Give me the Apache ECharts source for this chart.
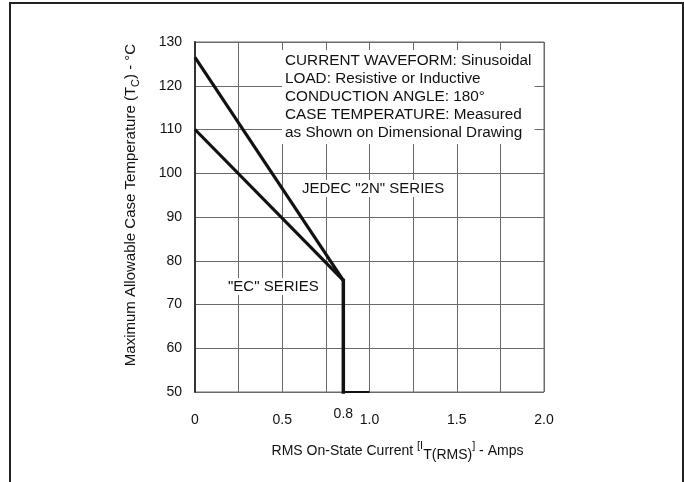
<!DOCTYPE html>
<html>
<head>
<meta charset="utf-8">
<script src="https://cdn.jsdelivr.net/npm/echarts@6/dist/echarts.min.js"></script>
<style>html,body{margin:0;padding:0;background:#fff}#c{width:684px;height:482px}</style>
</head>
<body>
<div id="c"></div>
<script>
// ---- data ----
const currentX = [0, 0.85];
const jedec2N = [126.5, 75.5];
const ecSeries = [110, 75.5];
const dropX = [0.85, 0.85];
const dropY = [75.5, 50];
const baseX = [0.85, 1.0];
const baseY = [50, 50];
const xLabelValues = [0, 0.5, 1.0, 1.5, 2.0];
const xLabelTexts = ['0', '0.5', '1.0', '1.5', '2.0'];
const extraTickX = [0.85];
const extraTickText = ['0.8'];
const yTicks = [50, 60, 70, 80, 90, 100, 110, 120, 130];
const noteLines = [
  'CURRENT WAVEFORM: Sinusoidal',
  'LOAD: Resistive or Inductive',
  'CONDUCTION ANGLE: 180\u00B0',
  'CASE TEMPERATURE: Measured',
  'as Shown on Dimensional Drawing'
];
const seriesLabels = ['JEDEC "2N" SERIES', '"EC" SERIES'];

const FONT = "'Liberation Sans', Arial, Helvetica, sans-serif";
const zip = (xs, ys) => xs.map((x, i) => [x, ys[i]]);

const chart = echarts.init(document.getElementById('c'), null, {renderer: 'canvas'});
chart.setOption({
  animation: false,
  backgroundColor: '#fff',
  textStyle: {fontFamily: FONT, color: '#111'},
  grid: {left: 195, top: 42, right: 140, bottom: 90, show: true, borderColor: '#6a6a6a', borderWidth: 1},
  xAxis: {
    type: 'value', min: 0, max: 2, interval: 0.25,
    axisLine: {show: false}, axisTick: {show: false},
    splitLine: {show: true, lineStyle: {color: '#6a6a6a', width: 1}},
    axisLabel: {
      margin: 21, fontSize: 14, color: '#111', fontFamily: FONT,
      formatter: v => {
        const i = xLabelValues.findIndex(x => Math.abs(x - v) < 1e-6);
        return i >= 0 ? xLabelTexts[i] : '';
      }
    },
    name: '{a|RMS On-State Current }{s|[I}{b|T(RMS)}{s|]}{a| - Amps}',
    nameLocation: 'middle', nameGap: 48,
    nameTextStyle: {
      padding: [0, 0, 0, 56],
      rich: {
        a: {fontSize: 14, fontFamily: FONT, color: '#111', lineHeight: 22, verticalAlign: 'middle'},
        s: {fontSize: 11, fontFamily: FONT, color: '#111', lineHeight: 22, verticalAlign: 'top'},
        b: {fontSize: 14, fontFamily: FONT, color: '#111', lineHeight: 22, verticalAlign: 'bottom', padding: [6, 0, 0, 0]}
      }
    }
  },
  yAxis: {
    type: 'value', min: 50, max: 130, interval: 10,
    axisLine: {show: true, lineStyle: {color: '#333', width: 2}},
    axisTick: {show: false},
    splitLine: {show: true, lineStyle: {color: '#6a6a6a', width: 1}},
    axisLabel: {
      margin: 13, fontSize: 14, color: '#111', fontFamily: FONT,
      formatter: v => (yTicks.indexOf(v) >= 0 ? String(v) : '')
    },
    name: '{a|Maximum Allowable Case Temperature (T}{b|C}{a|) - \u00B0C}',
    nameLocation: 'middle', nameRotate: 90, nameGap: 54,
    nameTextStyle: {
      padding: [0, 0, 0, 24],
      rich: {
        a: {fontSize: 15, fontFamily: FONT, color: '#111', lineHeight: 20, verticalAlign: 'middle'},
        b: {fontSize: 11, fontFamily: FONT, color: '#111', lineHeight: 20, verticalAlign: 'bottom'}
      }
    }
  },
  series: [
    {name: 'JEDEC 2N', type: 'line', data: zip(currentX, jedec2N), symbol: 'none',
     lineStyle: {color: '#111', width: 3.2}, z: 5},
    {name: 'EC', type: 'line', data: zip(currentX, ecSeries), symbol: 'none',
     lineStyle: {color: '#111', width: 3.2}, z: 5},
    {name: 'limit', type: 'line', data: zip(dropX, dropY), symbol: 'none',
     lineStyle: {color: '#111', width: 3.5, cap: 'square'}, z: 5, clip: false},
    {name: 'base', type: 'line', data: zip(baseX, baseY), symbol: 'none',
     lineStyle: {color: '#111', width: 2}, z: 4, clip: false},
    {name: 'tick', type: 'scatter', data: extraTickX.map(x => [x, 50]), symbolSize: 0, clip: false, silent: true,
     itemStyle: {opacity: 1},
     label: {show: true, position: 'bottom', distance: 15, fontSize: 14, fontFamily: FONT, color: '#111',
       formatter: p => extraTickText[p.dataIndex]}}
  ],
  graphic: [
    {type: 'rect', silent: true, shape: {x: 10, y: 3, width: 673, height: 520},
     style: {fill: 'none', stroke: '#222', lineWidth: 2}},
    {type: 'text', left: 282, top: 50, silent: true, z: 10,
     style: {text: noteLines.join('\n'), font: '15.3px ' + FONT, fill: '#111', lineHeight: 18,
       backgroundColor: '#fff', padding: [2, 3, 2, 3]}},
    {type: 'text', left: 300, top: 180, silent: true, z: 10,
     style: {text: seriesLabels[0], font: '15px ' + FONT, fill: '#111', backgroundColor: '#fff', padding: [1, 2, 1, 2]}},
    {type: 'text', left: 226, top: 278, silent: true, z: 10,
     style: {text: seriesLabels[1], font: '15px ' + FONT, fill: '#111', backgroundColor: '#fff', padding: [1, 2, 1, 2]}}
  ]
});
</script>
</body>
</html>
